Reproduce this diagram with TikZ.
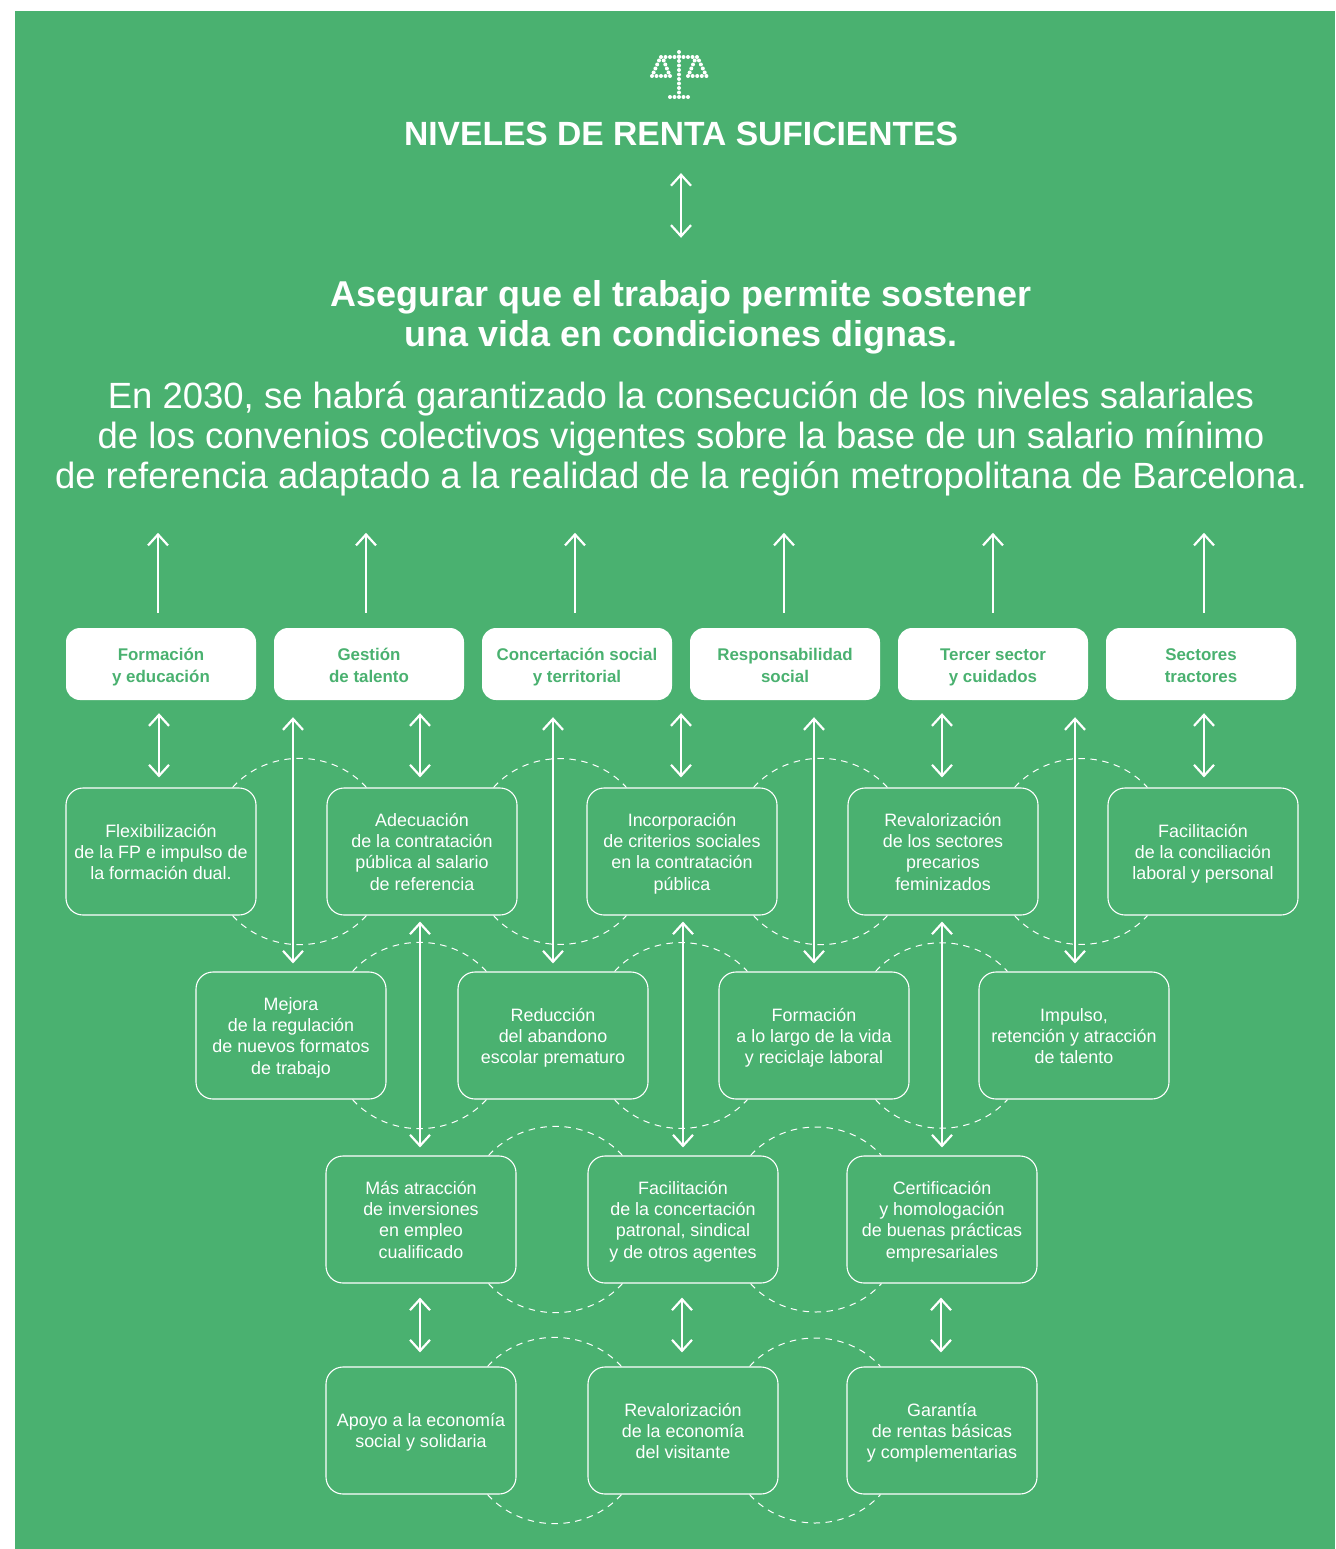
\documentclass[tikz,border=0pt]{standalone}
\usepackage{fontspec}
\setmainfont{Liberation Sans}
\usetikzlibrary{arrows.meta}

\definecolor{rentagreen}{HTML}{4AB170}

\tikzset{
	topbox/.style = {fill = white, text = rentagreen, rounded corners = 14pt, minimum width = 190pt, minimum height = 72pt, inner sep = 0pt, text width = 188pt, align = flush center, font = \fontsize{16.9}{22}\selectfont\bfseries, execute at begin node = \rule{0pt}{20.6pt}, execute at end node = \strut},
	actionbox/.style = {draw = white, line width = 1.1pt, text = white, rounded corners = 17pt, minimum width = 190pt, minimum height = 127pt, inner sep = 0pt, text width = 188pt, align = flush center, font = \fontsize{17.9}{21.3}\selectfont, execute at begin node = \rule{0pt}{20pt}, execute at end node = \strut},
	bigtext/.style = {text = white, inner sep = 0pt, align = center, execute at begin node = \strut, execute at end node = \strut},
	uparrow/.style = {->, white, line width = 2.2pt},
	dbl/.style = {<->, white, line width = 2.2pt},
	arc/.style = {white, line width = 1pt, dash pattern = on 6.5pt off 5.5pt},
	dot/.style = {white, fill = white}
}

\begin{document}
\begin{tikzpicture}[x = 1pt, y = -1pt, > = {Straight Barb[length = 11pt, width = 20pt, line width = 2.2pt]}]

	\useasboundingbox (0, 0) rectangle (1335, 1549);
	\fill [white] (0, 0) rectangle (1335, 1549);
	\fill [rentagreen] (15, 11) rectangle (1335, 1549);

	% Icon

	\foreach \y in {52, 56.5, ..., 93}
		\fill [dot] (679, \y) circle (2);
	\foreach \i in {0, ..., 8}
		\fill [dot] (661 + 4.5 * \i, 57) circle (2);
	\foreach \i in {0, ..., 4} {
		\fill [dot] (670 + 4.5 * \i, 97) circle (2);
		\fill [dot] (652 + 4.5 * \i, 76) circle (2);
		\fill [dot] (688 + 4.6 * \i, 76) circle (2);
	}
	\foreach \i in {0, ..., 3} {
		\fill [dot] (659 - 1.8 * \i, 60.5 + 4 * \i) circle (2);
		\fill [dot] (663.7 + 1.6 * \i, 60.5 + 4 * \i) circle (2);
		\fill [dot] (694.7 - 1.7 * \i, 60.5 + 4 * \i) circle (2);
		\fill [dot] (699 + 1.9 * \i, 60.5 + 4 * \i) circle (2);
	}

	% Titles

	\node [text = white, inner sep = 0pt, font = \fontsize{33.6}{40}\selectfont\bfseries] (title) at (681, 134) {NIVELES DE RENTA SUFICIENTES};
	\node [bigtext, font = \fontsize{35.9}{40}\selectfont\bfseries] (heading) at (681, 319) {Asegurar que el trabajo permite sostener\\una vida en condiciones dignas.};
	\node [bigtext, font = \fontsize{36.5}{40}\selectfont] (intro) at (681, 441) {En 2030, se habrá garantizado la consecución de los niveles salariales\\de los convenios colectivos vigentes sobre la base de un salario mínimo\\de referencia adaptado a la realidad de la región metropolitana de Barcelona.};

	\draw [dbl] ([yshift = -27pt]title.south) -- ([yshift = 42pt]heading.north);

	% Top boxes

	\node [topbox] (top1) at (161, 664) {Formación\\y educación};
	\node [topbox] (top2) at (369, 664) {Gestión\\de talento};
	\node [topbox] (top3) at (577, 664) {Concertación social\\y territorial};
	\node [topbox] (top4) at (785, 664) {Responsabilidad\\social};
	\node [topbox] (top5) at (993, 664) {Tercer sector\\y cuidados};
	\node [topbox] (top6) at (1201, 664) {Sectores\\tractores};

	% Rows of boxes

	\node [actionbox] (r1a) at (161, 851.5) {Flexibilización\\de la FP e impulso de\\la formación dual.};
	\node [actionbox] (r1b) at (422, 851.5) {Adecuación\\de la contratación\\pública al salario\\de referencia};
	\node [actionbox] (r1c) at (682, 851.5) {Incorporación\\de criterios sociales\\en la contratación\\pública};
	\node [actionbox] (r1d) at (943, 851.5) {Revalorización\\de los sectores\\precarios\\feminizados};
	\node [actionbox] (r1e) at (1203, 851.5) {Facilitación\\de la conciliación\\laboral y personal};

	\node [actionbox] (r2a) at (291, 1035.5) {Mejora\\de la regulación\\de nuevos formatos\\de trabajo};
	\node [actionbox] (r2b) at (553, 1035.5) {Reducción\\del abandono\\escolar prematuro};
	\node [actionbox] (r2c) at (814, 1035.5) {Formación\\a lo largo de la vida\\y reciclaje laboral};
	\node [actionbox] (r2d) at (1074, 1035.5) {Impulso,\\retención y atracción\\de talento};

	\node [actionbox] (r3a) at (421, 1219.5) {Más atracción\\de inversiones\\en empleo\\cualificado};
	\node [actionbox] (r3b) at (683, 1219.5) {Facilitación\\de la concertación\\patronal, sindical\\y de otros agentes};
	\node [actionbox] (r3c) at (942, 1219.5) {Certificación\\y homologación\\de buenas prácticas\\empresariales};

	\node [actionbox] (r4a) at (421, 1430.5) {Apoyo a la economía\\social y solidaria};
	\node [actionbox] (r4b) at (683, 1430.5) {Revalorización\\de la economía\\del visitante};
	\node [actionbox] (r4c) at (942, 1430.5) {Garantía\\de rentas básicas\\y complementarias};

	% Dashed arcs

	\foreach \a/\b/\da/\db in {r1a/r1b/-24/40, r1b/r1c/-24/40, r1c/r1d/-24/40, r1d/r1e/-24/40, r2a/r2b/-34/29, r2b/r2c/-34/29, r2c/r2d/-34/29, r3a/r3b/-28/35, r3b/r3c/-28/35, r4a/r4b/-29/34, r4b/r4c/-29/34} {
		\draw [arc] ([xshift = \da pt]\a.north east) to [bend left = 48] ([xshift = \db pt]\b.north west);
		\draw [arc] ([xshift = \da pt]\a.south east) to [bend right = 48] ([xshift = \db pt]\b.south west);
	}

	% Arrows going up

	\foreach \a/\d in {top1/-3, top2/-3, top3/-2, top4/-1, top5/0, top6/3}
		\draw [uparrow] ([xshift = \d pt, yshift = 15pt]\a.north) -- ++(0, -80);

	% Arrows between the top boxes and the first row

	\foreach \a/\b/\da/\db in {top1/r1a/-2/-2, top2/r1b/51/-2, top3/r1c/104/-1, top5/r1d/-51/-1, top6/r1e/3/1}
		\draw [dbl] ([xshift = \da pt, yshift = -13pt]\a.south) -- ([xshift = \db pt, yshift = 10pt]\b.north);

	% Long arrows down to the second row

	\foreach \a/\b/\da/\db in {top2/r2a/-76/2, top3/r2b/-24/0, top4/r2c/29/0, top5/r2d/82/1}
		\draw [dbl] ([xshift = \da pt, yshift = -17pt]\a.south) -- ([xshift = \db pt, yshift = 8pt]\b.north);

	% Long arrows down to the third row

	\foreach \a/\b/\da/\db in {r1b/r3a/-2/-1, r1c/r3b/1/0, r1d/r3c/-1/0}
		\draw [dbl] ([xshift = \da pt, yshift = -6pt]\a.south) -- ([xshift = \db pt, yshift = 8pt]\b.north);

	% Arrows between the last two rows

	\foreach \a/\b in {r3a/r4a, r3b/r4b, r3c/r4c}
		\draw [dbl] ([xshift = -1pt, yshift = -14pt]\a.south) -- ([xshift = -1pt, yshift = 14pt]\b.north);

\end{tikzpicture}
\end{document}
